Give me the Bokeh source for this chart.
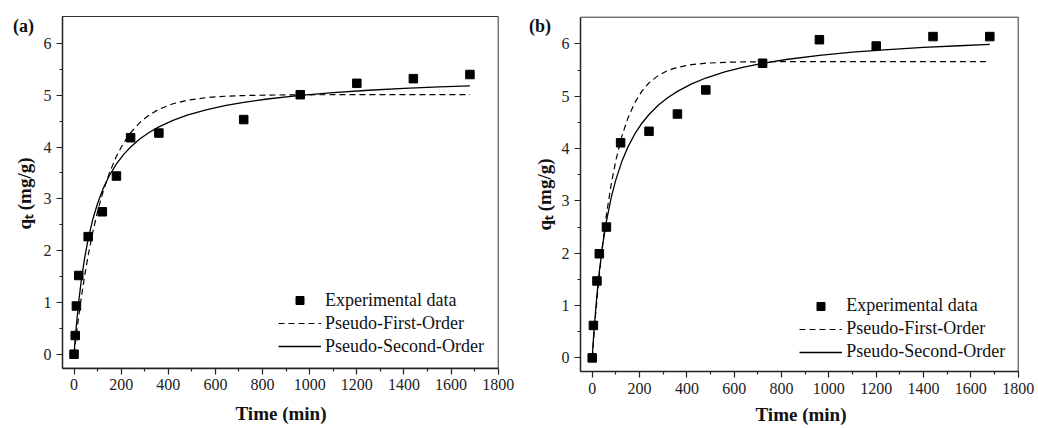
import math
from bokeh.plotting import figure
from bokeh.models import Range1d, Legend, LegendItem, FixedTicker
from bokeh.core.properties import value
from bokeh.layouts import row
from bokeh.embed import file_html
from bokeh.resources import INLINE

# ---------------- data ----------------
x_ticks = [0, 200, 400, 600, 800, 1000, 1200, 1400, 1600, 1800]
x_minor = [100, 300, 500, 700, 900, 1100, 1300, 1500, 1700]
y_ticks = [0, 1, 2, 3, 4, 5, 6]
y_minor = [0.5, 1.5, 2.5, 3.5, 4.5, 5.5]

series_names = ["Experimental data", "Pseudo-First-Order", "Pseudo-Second-Order"]
x_title = "Time (min)"
y_title = "q\u209c (mg/g)"

# panel (a)
t_exp_a = [0, 5, 10, 20, 60, 120, 180, 240, 360, 720, 960, 1200, 1440, 1680]
q_exp_a = [0.0, 0.36, 0.93, 1.52, 2.27, 2.75, 3.44, 4.18, 4.27, 4.53, 5.01, 5.23, 5.32, 5.40]

# panel (b)
t_exp_b = [0, 5, 20, 30, 60, 120, 240, 360, 480, 720, 960, 1200, 1440, 1680]
q_exp_b = [0.0, 0.62, 1.47, 1.99, 2.50, 4.11, 4.33, 4.66, 5.12, 5.63, 6.08, 5.96, 6.14, 6.14]

# fitted curves
t_fit = [0, 5, 10, 20, 30, 45, 60, 80, 100, 125, 150, 180, 210, 240, 280, 320,
         360, 420, 480, 560, 640, 720, 820, 960, 1100, 1250, 1400, 1550, 1680]
pfo_a = [0.0, 0.196, 0.385, 0.741, 1.069, 1.515, 1.910, 2.368, 2.759, 3.167, 3.501,
         3.823, 4.076, 4.276, 4.476, 4.623, 4.729, 4.836, 4.902, 4.953, 4.980, 4.994,
         5.003, 5.008, 5.01, 5.01, 5.01, 5.01, 5.01]
pso_a = [0.0, 0.296, 0.562, 1.019, 1.398, 1.859, 2.225, 2.611, 2.915, 3.214, 3.450,
         3.675, 3.854, 4.000, 4.159, 4.285, 4.390, 4.515, 4.614, 4.718, 4.798, 4.863,
         4.927, 4.997, 5.051, 5.096, 5.131, 5.161, 5.182]
pfo_b = [0.0, 0.303, 0.590, 1.118, 1.591, 2.210, 2.734, 3.312, 3.776, 4.229, 4.573,
         4.878, 5.098, 5.256, 5.400, 5.492, 5.552, 5.604, 5.631, 5.648, 5.655, 5.658,
         5.66, 5.66, 5.66, 5.66, 5.66, 5.66, 5.66]
pso_b = [0.0, 0.351, 0.665, 1.203, 1.647, 2.184, 2.610, 3.057, 3.407, 3.751, 4.022,
         4.279, 4.484, 4.651, 4.831, 4.975, 5.093, 5.235, 5.348, 5.465, 5.555, 5.629,
         5.702, 5.781, 5.841, 5.891, 5.932, 5.964, 5.989]

FONT = "Liberation Serif"
H = 428


def make_panel(tag, t_exp, q_exp, pfo, pso, W, frame_px, xlim, ylim,
               tag_px, ylab_px, xlab_px, leg_px):
    L, R, T, B = frame_px
    sx = (R - L) / (xlim[1] - xlim[0])
    sy = (B - T) / (ylim[1] - ylim[0])
    X = lambda px: xlim[0] + (px - L) / sx
    Y = lambda py: ylim[1] - (py - T) / sy

    p = figure(width=W, height=H, output_backend="svg", toolbar_location=None,
               x_range=Range1d(X(0), X(W)), y_range=Range1d(Y(H), Y(0)),
               min_border=0, background_fill_color="white",
               border_fill_color="white")
    p.grid.visible = False
    p.outline_line_color = None

    # plot box (thin top/right edges)
    p.quad(left=[xlim[0]], right=[xlim[1]], bottom=[ylim[0]], top=[ylim[1]],
           fill_color=None, line_color="#333333", line_width=1)

    p.xaxis.fixed_location = ylim[0]
    p.yaxis.fixed_location = xlim[0]
    p.xaxis.bounds = xlim
    p.yaxis.bounds = ylim
    p.xaxis.ticker = FixedTicker(ticks=x_ticks, minor_ticks=x_minor)
    p.yaxis.ticker = FixedTicker(ticks=y_ticks, minor_ticks=y_minor)
    for ax in (p.xaxis, p.yaxis):
        ax.axis_line_width = 1.5
        ax.axis_line_color = "#222222"
        ax.major_tick_line_color = "#222222"
        ax.minor_tick_line_color = "#222222"
        ax.major_tick_line_width = 1.2
        ax.minor_tick_line_width = 1.2
        ax.major_tick_in = 0
        ax.major_tick_out = 6
        ax.minor_tick_in = 0
        ax.minor_tick_out = 3
        ax.major_label_text_font = FONT
        ax.major_label_text_font_size = "16px"
        ax.major_label_text_color = "#222222"
    p.xaxis.major_label_standoff = 5
    p.yaxis.major_label_standoff = 5

    r1 = p.line(t_fit, pfo, line_color="black", line_width=1.2, line_dash="6 4")
    r2 = p.line(t_fit, pso, line_color="black", line_width=1.3)
    r0 = p.scatter(t_exp, q_exp, marker="square", size=8.5, fill_color="black",
                   line_color="black")

    # axis titles and panel tag
    p.text(x=[X(xlab_px[0])], y=[Y(xlab_px[1])], text=[x_title],
           text_font=value(FONT), text_font_style="bold",
           text_font_size=value("19px"), text_align="center",
           text_baseline="alphabetic", text_color="#111111")
    p.text(x=[X(ylab_px[0])], y=[Y(ylab_px[1])], text=[y_title], angle=math.pi / 2,
           text_font=value(FONT), text_font_style="bold",
           text_font_size=value("19px"), text_align="center",
           text_baseline="middle", text_color="#111111")
    p.text(x=[X(tag_px[0])], y=[Y(tag_px[1])], text=[tag],
           text_font=value(FONT), text_font_style="bold",
           text_font_size=value("18px"), text_align="left",
           text_baseline="top", text_color="#111111")

    legend = Legend(items=[LegendItem(label=series_names[0], renderers=[r0]),
                           LegendItem(label=series_names[1], renderers=[r1]),
                           LegendItem(label=series_names[2], renderers=[r2])],
                    location=(leg_px[0], H - leg_px[1]), glyph_width=43,
                    glyph_height=20, label_height=20, label_standoff=4, spacing=2,
                    padding=0, margin=0, border_line_alpha=0,
                    background_fill_alpha=0, label_text_font=FONT,
                    label_text_font_size="18px", label_text_color="#111111")
    p.add_layout(legend)
    return p


pa = make_panel("(a)", t_exp_a, q_exp_a, pfo_a, pso_a, 528,
                (62, 497.7, 16, 367.7), (-49, 1800), (-0.27, 6.52),
                tag_px=(12.5, 15.5), ylab_px=(24, 193), xlab_px=(280.5, 413),
                leg_px=(278, 356.7))
pb = make_panel("(b)", t_exp_b, q_exp_b, pfo_b, pso_b, 510,
                (52, 489.7, 16.7, 371), (-49.5, 1800), (-0.26, 6.51),
                tag_px=(0.5, 15.5), ylab_px=(16, 194), xlab_px=(272.5, 414),
                leg_px=(271.3, 362))

layout = row(pa, pb)
open("out.html", "w").write(file_html(layout, INLINE))
